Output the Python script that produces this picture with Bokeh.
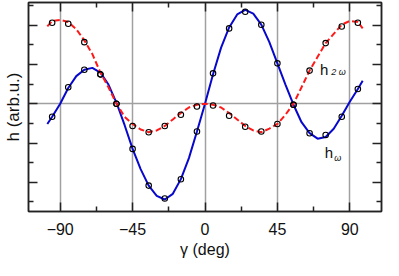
from bokeh.plotting import figure
from bokeh.models import Range1d, LinearAxis, FixedTicker, Label
from bokeh.embed import file_html
from bokeh.resources import INLINE

# measured points (gamma in degrees)
gamma_pts = [-95, -85, -75, -65, -55, -45, -35, -25, -15, -5,
             5, 15, 25, 35, 45, 55, 65, 75, 85, 95]
h_w_pts = [-0.66, 0.84, 1.73, 1.50, 0.00, -2.30, -4.17, -4.83, -3.85, -1.41,
           1.55, 3.84, 4.69, 4.03, 2.06, -0.05, -1.50, -1.59, -0.66, 0.75]
h_2w_pts = [4.13, 4.08, 3.14, 1.50, 0.00, -1.13, -1.45, -1.13, -0.56, -0.14,
            -0.09, -0.61, -1.17, -1.41, -1.03, -0.05, 1.69, 3.09, 3.94, 4.13]

# fitted curves
gamma_fit = [-98, -95, -90, -85, -80, -75, -70, -65, -60, -55, -50, -45, -40, -35,
             -30, -25, -20, -15, -10, -5, 0, 5, 10, 15, 20, 25, 30, 35, 40, 45,
             50, 55, 60, 65, 70, 75, 80, 85, 90, 95, 98]
h_w_fit = [-1.03, -0.66, 0.00, 0.80, 1.41, 1.73, 1.83, 1.59, 0.98, 0.05, -1.08,
           -2.30, -3.33, -4.17, -4.69, -4.88, -4.59, -3.84, -2.77, -1.41, 0.00,
           1.50, 2.86, 3.89, 4.55, 4.78, 4.59, 4.03, 3.14, 2.06, 0.98, -0.05,
           -0.94, -1.50, -1.78, -1.69, -1.27, -0.61, 0.10, 0.75, 1.17]
h_2w_fit = [3.94, 4.22, 4.27, 4.17, 3.80, 3.23, 2.53, 1.59, 0.84, 0.00, -0.66,
            -1.03, -1.31, -1.45, -1.36, -1.13, -0.80, -0.47, -0.19, -0.05, 0.00,
            -0.05, -0.19, -0.47, -0.80, -1.13, -1.36, -1.45, -1.27, -1.03, -0.56,
            0.00, 0.84, 1.69, 2.39, 3.09, 3.56, 4.03, 4.22, 4.17, 3.84]

x_major = [-90, -45, 0, 45, 90]
x_minor = [-112.5, -67.5, -22.5, 22.5, 67.5, 112.5]
x_labels = {-90: "\u221290", -45: "\u221245", 0: "0", 45: "45", 90: "90"}
y_major = [-4, -2, 0, 2, 4]
y_minor = [-5, -3, -1, 1, 3, 5]

FONT = "Liberation Sans"

p = figure(width=383, height=260, output_backend="svg", toolbar_location=None,
           x_range=Range1d(-109.7, 109.7), y_range=Range1d(-5.49, 5.16),
           min_border_left=4, min_border_right=2, min_border_top=2,
           min_border_bottom=2)
p.outline_line_color = "#222222"
p.outline_line_width = 1.5
p.background_fill_color = "white"
p.border_fill_color = "white"

p.xgrid.ticker = FixedTicker(ticks=x_major)
p.ygrid.ticker = FixedTicker(ticks=[0])
for g in (p.xgrid, p.ygrid):
    g.grid_line_color = "#a0a0a0"
    g.grid_line_width = 1.5


def style_axis(ax, ticks, minor):
    ax.ticker = FixedTicker(ticks=ticks, minor_ticks=minor)
    ax.major_tick_in = 9
    ax.major_tick_out = 0
    ax.minor_tick_in = 5
    ax.minor_tick_out = 0
    ax.axis_line_color = "#222222"
    ax.axis_line_width = 1.5
    ax.major_tick_line_color = "#222222"
    ax.major_tick_line_width = 1.5
    ax.minor_tick_line_color = "#222222"
    ax.minor_tick_line_width = 1.5


bx = p.xaxis[0]
style_axis(bx, x_major, x_minor)
bx.major_label_overrides = x_labels
bx.major_label_text_font = FONT
bx.major_label_text_font_size = "16px"
bx.major_label_text_color = "#111111"
bx.major_label_standoff = 11
bx.axis_label = "\u03b3 (deg)"
bx.axis_label_text_font = FONT
bx.axis_label_text_font_size = "16px"
bx.axis_label_text_font_style = "normal"
bx.axis_label_text_color = "#111111"
bx.axis_label_standoff = 3

ly = p.yaxis[0]
style_axis(ly, y_major, y_minor)
ly.major_label_overrides = {t: "" for t in y_major}
ly.major_label_standoff = 0
ly.axis_label = "h (arb.u.)"
ly.axis_label_text_font = FONT
ly.axis_label_text_font_size = "17px"
ly.axis_label_text_font_style = "normal"
ly.axis_label_text_color = "#111111"
ly.axis_label_standoff = 6

top = LinearAxis()
style_axis(top, x_major, x_minor)
top.major_label_overrides = {t: "" for t in x_major}
top.major_label_standoff = 0
p.add_layout(top, "above")

right = LinearAxis()
style_axis(right, y_major, y_minor)
right.major_label_overrides = {t: "" for t in y_major}
right.major_label_standoff = 0
p.add_layout(right, "right")

p.line(gamma_fit, h_w_fit, line_color="#0808cc", line_width=2)
p.line(gamma_fit, h_2w_fit, line_color="#ff1a1a", line_width=2, line_dash="6 3")
p.scatter(gamma_pts, h_w_pts, marker="circle", size=5.5, fill_color=None,
          line_color="black", line_width=1.1)
p.scatter(gamma_pts, h_2w_pts, marker="circle", size=5.5, fill_color=None,
          line_color="black", line_width=1.1)

# curve labels
p.add_layout(Label(x=71.5, y=1.73, text="h", text_font=FONT, text_font_size="15px",
                   text_color="#111111", text_baseline="alphabetic"))
p.add_layout(Label(x=78.5, y=1.64, text="2 \u03c9", text_font=FONT, text_font_size="9px",
                   text_font_style="italic", text_color="#111111",
                   text_baseline="alphabetic"))
p.add_layout(Label(x=74.5, y=-2.48, text="h", text_font=FONT, text_font_size="15px",
                   text_color="#111111", text_baseline="alphabetic"))
p.add_layout(Label(x=80.3, y=-2.75, text="\u03c9", text_font=FONT, text_font_size="9px",
                   text_font_style="italic", text_color="#111111",
                   text_baseline="alphabetic"))

open("out.html", "w").write(file_html(p, INLINE))
